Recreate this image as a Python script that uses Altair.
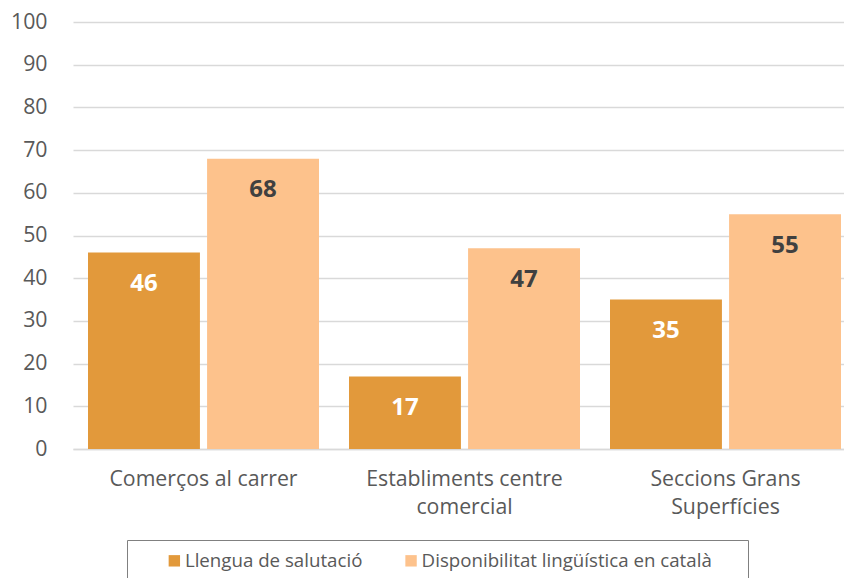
import json
import altair as alt
import pandas as pd

categories = ["Comerços al carrer", "Establiments centre comercial", "Seccions Grans Superfícies"]
axis_label_lines = [["Comerços al carrer"], ["Establiments centre", "comercial"], ["Seccions Grans", "Superfícies"]]
series = ["Llengua de salutació", "Disponibilitat lingüística en català"]
salutacio = [46, 17, 35]
disponibilitat = [68, 47, 55]
y_ticks = [0, 10, 20, 30, 40, 50, 60, 70, 80, 90, 100]
colors = ["#E2993B", "#FDC28C"]

rows = []
for i, c in enumerate(categories):
    rows.append({"categoria": c, "serie": series[0], "valor": salutacio[i]})
    rows.append({"categoria": c, "serie": series[1], "valor": disponibilitat[i]})
df = pd.DataFrame(rows)

parts = []
for c, lines in zip(categories, axis_label_lines):
    parts.append(f"datum.label == {json.dumps(c, ensure_ascii=False)} ? {json.dumps(lines, ensure_ascii=False)}")
label_expr = " : ".join(parts) + " : datum.label"

NB = "\u00a0"
ZW = "\u200b"

x = alt.X(
    "categoria:N", sort=categories,
    scale=alt.Scale(range=[0, 783], paddingInner=0.115, paddingOuter=0.0575),
    axis=alt.Axis(title=None, labelExpr=label_expr, labelAngle=0, labelFontSize=21.3,
                  labelColor="#595959", labelPadding=19, labelLineHeight=28,
                  ticks=False, tickSize=0, domainColor="#d9d9d9", domainWidth=1.3,
                  grid=False, labelLimit=400),
)
xo = alt.XOffset("serie:N", sort=series, scale=alt.Scale(paddingInner=0.06, paddingOuter=0))
y = alt.Y(
    "valor:Q",
    scale=alt.Scale(domain=[0, 100], nice=False),
    axis=alt.Axis(title=None, values=y_ticks, labelFontSize=21.3, labelColor="#595959",
                  labelPadding=26, ticks=False, tickSize=0, domain=False,
                  gridColor="#d9d9d9", gridWidth=1.3),
)

base = alt.Chart(df)

bars = base.mark_bar().encode(
    x=x, xOffset=xo, y=y,
    color=alt.Color(
        "serie:N", sort=series,
        scale=alt.Scale(domain=series, range=colors),
        legend=alt.Legend(
            orient="none", legendX=54, legendY=518, direction="horizontal",
            title=NB, titleOrient="left", titlePadding=27, titleFontSize=18.7,
            labelFontSize=18.7, labelColor="#595959",
            labelExpr="datum.label + '" + NB * 5 + ZW + "'",
            labelLimit=600, symbolType="square", symbolSize=130, symbolStrokeWidth=0,
            labelOffset=1.2, columnPadding=14.7, padding=11, strokeColor="#808080",
        ),
    ),
)

text = base.mark_text(baseline="alphabetic", dy=38.5, fontSize=24, fontWeight="bold").encode(
    x=x, xOffset=xo, y=y,
    text="valor:Q",
    color=alt.condition(alt.datum.serie == series[0], alt.value("#FFFFFF"), alt.value("#404040")),
)

chart = alt.layer(bars, text).properties(
    width=771, height=427,
    padding={"left": 65, "top": 14, "right": 0, "bottom": 129},
    autosize=alt.AutoSizeParams(type="none"),
).configure(font="Open Sans").configure_view(stroke=None)

chart.save("out.html", embed_options={"renderer": "svg", "actions": False})
